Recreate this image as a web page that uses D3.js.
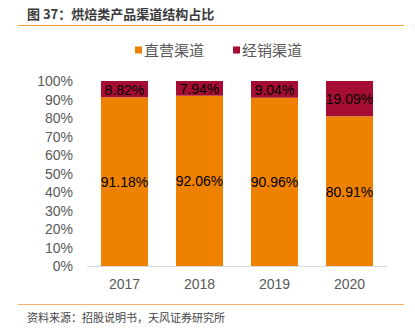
<!DOCTYPE html>
<html>
<head>
<meta charset="utf-8">
<script src="https://cdn.jsdelivr.net/npm/d3@7"></script>
<style>
  body { margin: 0; background: #fff; }
  svg { display: block; font-family: "Liberation Sans", Arial, "Noto Sans CJK SC", sans-serif; }
</style>
</head>
<body>
<svg></svg>
<script>
// channel share of bakery products, by year
const years = ["2017", "2018", "2019", "2020"];
const direct = [91.18, 92.06, 90.96, 80.91];   // 直营渠道
const dealer = [8.82, 7.94, 9.04, 19.09];      // 经销渠道
const seriesNames = ["直营渠道", "经销渠道"];
const yTicks = [0, 10, 20, 30, 40, 50, 60, 70, 80, 90, 100];

const width = 415, height = 332;
const colors = ["#EE8200", "#A50D33"];

const svg = d3.select("svg").attr("width", width).attr("height", height);

// header
svg.append("text")
  .attr("x", 27).attr("y", 19)
  .attr("font-size", 13).attr("font-weight", "bold")
  .attr("fill", "#3a3a3a")
  .attr("font-family", "'Noto Sans CJK SC', sans-serif")
  .text("图 37：烘焙类产品渠道结构占比");

svg.append("line")
  .attr("x1", 18).attr("x2", 404).attr("y1", 25.5).attr("y2", 25.5)
  .attr("stroke", "#F39A3D").attr("stroke-width", 1);

// legend
const legendX = [135, 233];
seriesNames.forEach((name, i) => {
  svg.append("rect")
    .attr("x", legendX[i]).attr("y", 46.5)
    .attr("width", 7).attr("height", 7)
    .attr("fill", colors[i]);
  svg.append("text")
    .attr("x", legendX[i] + 9).attr("y", 55.5)
    .attr("font-size", 15).attr("fill", "#595959")
    .attr("font-family", "'Noto Sans CJK SC', sans-serif")
    .text(name);
});

// scales
const x = d3.scaleBand().domain(years).range([87, 387]).paddingInner(0.373).paddingOuter(0.186);
const y = d3.scaleLinear().domain([0, 100]).range([266, 81]);

// y axis labels
svg.append("g").selectAll("text")
  .data(yTicks)
  .join("text")
  .attr("x", 73)
  .attr("y", d => y(d) + 5)
  .attr("text-anchor", "end")
  .attr("font-size", 14)
  .attr("fill", "#595959")
  .text(d => d + "%");

// stacked bars
const rows = years.map((yr, i) => ({ year: yr, direct: direct[i], dealer: dealer[i] }));
const stacked = d3.stack().keys(["direct", "dealer"])(rows);

const layers = svg.append("g").selectAll("g")
  .data(stacked)
  .join("g")
  .attr("fill", (d, i) => colors[i]);

layers.selectAll("rect")
  .data(d => d)
  .join("rect")
  .attr("x", d => x(d.data.year))
  .attr("width", x.bandwidth())
  .attr("y", d => y(d[1]))
  .attr("height", d => y(d[0]) - y(d[1]));

layers.selectAll("text")
  .data((d, i) => d.map(v => ({ v, key: stacked[i].key })))
  .join("text")
  .attr("x", d => x(d.v.data.year) + x.bandwidth() / 2)
  .attr("y", d => (y(d.v[0]) + y(d.v[1])) / 2 + 5.5)
  .attr("text-anchor", "middle")
  .attr("font-size", 14)
  .attr("fill", "#000")
  .text(d => d.v.data[d.key].toFixed(2) + "%");

// x axis
svg.append("line")
  .attr("x1", 87).attr("x2", 387).attr("y1", 266.5).attr("y2", 266.5)
  .attr("stroke", "#d9d9d9").attr("stroke-width", 1);

svg.append("g").selectAll("text")
  .data(years)
  .join("text")
  .attr("x", d => x(d) + x.bandwidth() / 2)
  .attr("y", 289)
  .attr("text-anchor", "middle")
  .attr("font-size", 14)
  .attr("fill", "#595959")
  .text(d => d);

// footer
svg.append("line")
  .attr("x1", 18).attr("x2", 404).attr("y1", 304.5).attr("y2", 304.5)
  .attr("stroke", "#F7B26A").attr("stroke-width", 1);

svg.append("text")
  .attr("x", 27).attr("y", 322)
  .attr("font-size", 11).attr("fill", "#444")
  .attr("font-family", "'Noto Sans CJK SC', sans-serif")
  .text("资料来源：招股说明书，天风证券研究所");
</script>
</body>
</html>
